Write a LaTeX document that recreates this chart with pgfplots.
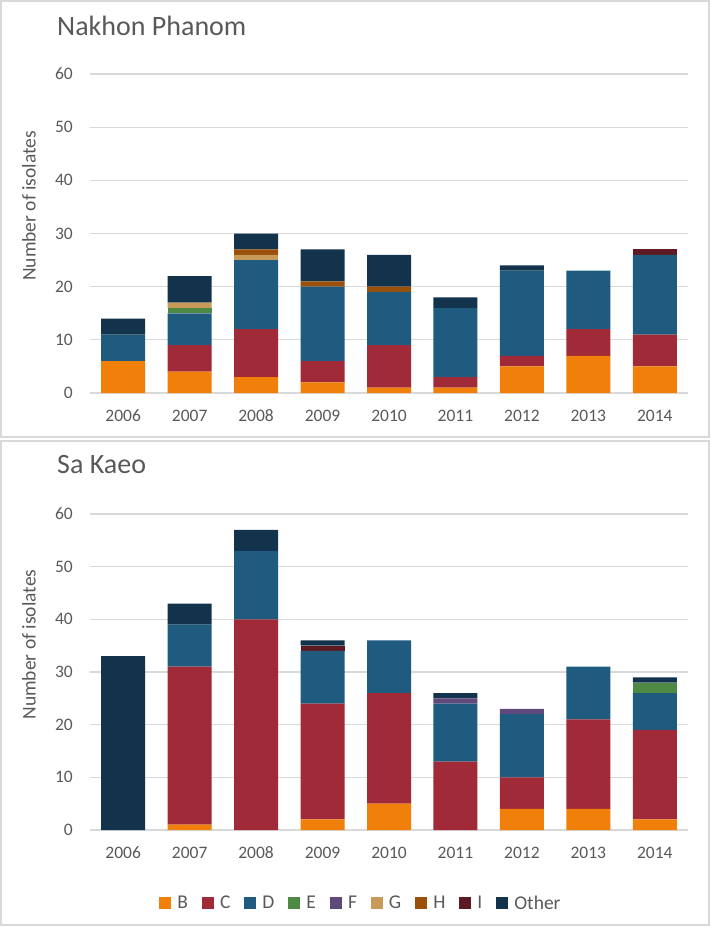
\documentclass[border=0pt]{standalone}
\usepackage{fontspec}
\setmainfont{Carlito}
\usepackage{pgfplots}
\usepackage{pgfplotstable}
\pgfplotsset{compat=1.18}

\definecolor{cB}{HTML}{F0800A}
\definecolor{cC}{HTML}{A02A37}
\definecolor{cD}{HTML}{1F5A7F}
\definecolor{cE}{HTML}{4E8A43}
\definecolor{cF}{HTML}{604A7B}
\definecolor{cG}{HTML}{C89A58}
\definecolor{cH}{HTML}{9A4F0A}
\definecolor{cI}{HTML}{5E1A22}
\definecolor{cO}{HTML}{12334B}
\definecolor{labelgray}{HTML}{595959}
\definecolor{gridgray}{HTML}{D9D9D9}

\newcommand{\ticksize}{\fontsize{17.5}{20}\selectfont}
\newcommand{\legsize}{\fontsize{19.5}{22}\selectfont}
\newcommand{\labsize}{\fontsize{19.5}{22}\selectfont}
\newcommand{\titsize}{\fontsize{28}{32}\selectfont}

\pgfplotstableread{
x B C D E F G H I O
0 6 0 5 0 0 0 0 0 3
1 4 5 6 1 0 1 0 0 5
2 3 9 13 0 0 1 1 0 3
3 2 4 14 0 0 0 1 0 6
4 1 8 10 0 0 0 1 0 6
5 1 2 13 0 0 0 0 0 2
6 5 2 16 0 0 0 0 0 1
7 7 5 11 0 0 0 0 0 0
8 5 6 15 0 0 0 0 1 0
}\NP

\pgfplotstableread{
x B C D E F G H I O
0 0 0 0 0 0 0 0 0 33
1 1 30 8 0 0 0 0 0 4
2 0 40 13 0 0 0 0 0 4
3 2 22 10 0 0 0 0 1 1
4 5 21 10 0 0 0 0 0 0
5 0 13 11 0 1 0 0 0 1
6 4 6 12 0 1 0 0 0 0
7 4 17 10 0 0 0 0 0 0
8 2 17 7 2 0 0 0 0 1
}\SK

\pgfplotsset{
  panel/.style={
    ybar stacked, bar width=44pt,
    scale only axis, width=598pt,
    xmin=-0.5, xmax=8.5, ymin=0, ymax=60,
    ytick={0,10,...,60},
    xtick={0,1,2,3,4,5,6,7,8},
    xticklabels={2006,2007,2008,2009,2010,2011,2012,2013,2014},
    axis line style={draw=none},
    major tick length=0pt,
    ymajorgrids, grid style={draw=gridgray, line width=1.3pt},
    tick label style={font=\ticksize, text=labelgray},
    xticklabel style={anchor=center, inner sep=0pt, yshift=-23pt},
    yticklabel style={anchor=east, inner sep=0pt, xshift=-17pt},
    /pgf/number format/assume math mode=true,
    ylabel={Number of isolates},
    every axis y label/.style={at={(axis description cs:-0.102,0.587)}, rotate=90, anchor=center, font=\labsize, text=labelgray},
    every axis plot/.append style={draw=none},
  }
}

\begin{document}
\begin{tikzpicture}
\path[use as bounding box] (0pt,0pt) rectangle (711pt,-927pt);
\draw[gridgray, line width=1.5pt] (1pt,-1pt) rectangle (709pt,-437pt);
\draw[gridgray, line width=1.5pt] (1pt,-441pt) rectangle (709pt,-925pt);

\begin{axis}[panel, at={(90pt,-393pt)}, anchor=south west, height=319pt]
\addplot[fill=cB] table[x=x,y=B]{\NP};
\addplot[fill=cC] table[x=x,y=C]{\NP};
\addplot[fill=cD] table[x=x,y=D]{\NP};
\addplot[fill=cE] table[x=x,y=E]{\NP};
\addplot[fill=cF] table[x=x,y=F]{\NP};
\addplot[fill=cG] table[x=x,y=G]{\NP};
\addplot[fill=cH] table[x=x,y=H]{\NP};
\addplot[fill=cI] table[x=x,y=I]{\NP};
\addplot[fill=cO] table[x=x,y=O]{\NP};
\end{axis}

\begin{axis}[panel, at={(90pt,-830pt)}, anchor=south west, height=316pt,
  legend columns=-1,
  legend style={at={(axis description cs:0.4515,-0.231)}, anchor=center,
    draw=none, fill=none, font=\legsize, text=labelgray,
    nodes={inner sep=0pt},
    /tikz/every odd column/.append style={column sep=6pt},
    /tikz/every even column/.append style={column sep=14pt}},
  legend image code/.code={\fill[#1] (0pt,-6pt) rectangle (12pt,6pt);}
]
\addplot[fill=cB] table[x=x,y=B]{\SK}; \addlegendentry{B}
\addplot[fill=cC] table[x=x,y=C]{\SK}; \addlegendentry{C}
\addplot[fill=cD] table[x=x,y=D]{\SK}; \addlegendentry{D}
\addplot[fill=cE] table[x=x,y=E]{\SK}; \addlegendentry{E}
\addplot[fill=cF] table[x=x,y=F]{\SK}; \addlegendentry{F}
\addplot[fill=cG] table[x=x,y=G]{\SK}; \addlegendentry{G}
\addplot[fill=cH] table[x=x,y=H]{\SK}; \addlegendentry{H}
\addplot[fill=cI] table[x=x,y=I]{\SK}; \addlegendentry{I}
\addplot[fill=cO] table[x=x,y=O]{\SK}; \addlegendentry{Other}
\end{axis}

\node[anchor=base west, inner sep=0pt, font=\titsize, text=labelgray] at (57pt,-35pt) {Nakhon Phanom};
\node[anchor=base west, inner sep=0pt, font=\titsize, text=labelgray] at (57pt,-473pt) {Sa Kaeo};
\end{tikzpicture}
\end{document}
